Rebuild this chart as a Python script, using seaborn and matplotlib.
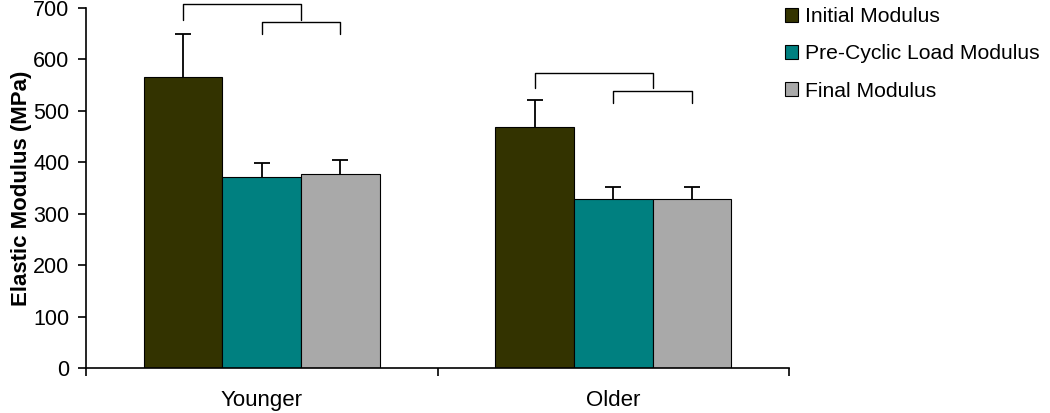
import matplotlib
matplotlib.use("Agg")
import matplotlib.pyplot as plt
import seaborn as sns
import pandas as pd

groups = ["Younger", "Older"]
series = ["Initial Modulus", "Pre-Cyclic Load Modulus", "Final Modulus"]
values = {
    "Initial Modulus": [566, 469],
    "Pre-Cyclic Load Modulus": [371, 328],
    "Final Modulus": [378, 328],
}
errors = {
    "Initial Modulus": [83, 53],
    "Pre-Cyclic Load Modulus": [27, 24],
    "Final Modulus": [26, 24],
}
colors = ["#333300", "#008080", "#A9A9A9"]
# significance brackets per group: (top, leg bottom) for wide and narrow bracket
wide_brackets = [(707, 677), (574, 544)]
narrow_brackets = [(672, 649), (539, 515)]

rows = []
for s in series:
    for g, v in zip(groups, values[s]):
        rows.append({"Group": g, "Series": s, "Value": v})
df = pd.DataFrame(rows)

sns.set_style("ticks")
plt.rcParams["font.family"] = ["Liberation Sans", "DejaVu Sans"]
plt.rcParams["text.color"] = "black"
plt.rcParams["axes.labelcolor"] = "black"
plt.rcParams["xtick.color"] = "black"
plt.rcParams["ytick.color"] = "black"

fig = plt.figure(figsize=(10.5, 4.13), dpi=100)
ax = fig.add_axes([86 / 1050, 45 / 413, 703 / 1050, 360 / 413])

sns.barplot(
    data=df, x="Group", y="Value", hue="Series",
    palette=colors, width=0.67, edgecolor="black", linewidth=0.8,
    errorbar=None, saturation=1, ax=ax,
)

# error bars (upper only) from bar geometry
centers = {}
for s, cont in zip(series, ax.containers):
    xs = [bar.get_x() + bar.get_width() / 2 for bar in cont]
    ys = [bar.get_height() for bar in cont]
    centers[s] = (xs, [b.get_x() + b.get_width() for b in cont])
    eb = ax.errorbar(xs, ys, yerr=[[0] * len(ys), errors[s]], fmt="none",
                     ecolor="black", elinewidth=1.3, capsize=6, capthick=1.3)
    eb[1][0].set_visible(False)

# brackets
for i in range(len(groups)):
    x_init = centers[series[0]][0][i]
    x_pre = centers[series[1]][0][i]
    x_pre_edge = centers[series[1]][1][i]
    x_fin = centers[series[2]][0][i]
    top, low = wide_brackets[i]
    ax.plot([x_init, x_init, x_pre_edge, x_pre_edge], [low, top, top, low],
            color="black", lw=1.0, clip_on=False)
    top, low = narrow_brackets[i]
    ax.plot([x_pre, x_pre, x_fin, x_fin], [low, top, top, low],
            color="black", lw=1.0, clip_on=False)

ax.set_xlim(-0.5, 1.5)
ax.set_ylim(0, 700)
ax.set_yticks(range(0, 701, 100))
ax.set_xticks([0, 1])
ax.set_xticklabels(groups)
ax.set_xticks([-0.5, 0.5, 1.5], minor=True)
ax.tick_params(axis="x", which="major", length=0, pad=16, labelsize=16)
ax.tick_params(axis="x", which="minor", length=6, width=1.2, direction="out")
ax.tick_params(axis="y", length=6, width=1.2, pad=6, labelsize=15.5, direction="out")
ax.set_xlabel("")
ax.set_ylabel("Elastic Modulus (MPa)", fontsize=16, fontweight="bold", labelpad=1)
for side in ["top", "right"]:
    ax.spines[side].set_visible(False)
for side in ["left", "bottom"]:
    ax.spines[side].set_linewidth(1.2)
    ax.spines[side].set_color("black")

ax.get_legend().remove()
handles = [plt.Rectangle((0, 0), 1, 1, facecolor=c, edgecolor="black", linewidth=0.8)
           for c in colors]
fig.legend(handles, series, loc="upper left", bbox_to_anchor=(781 / 1050, 1 - 3 / 413),
           frameon=False, fontsize=15.2, handlelength=0.62, handleheight=0.62,
           handletextpad=0.3, labelspacing=0.86, borderpad=0.2, borderaxespad=0)

fig.savefig("out.png", dpi=100)
